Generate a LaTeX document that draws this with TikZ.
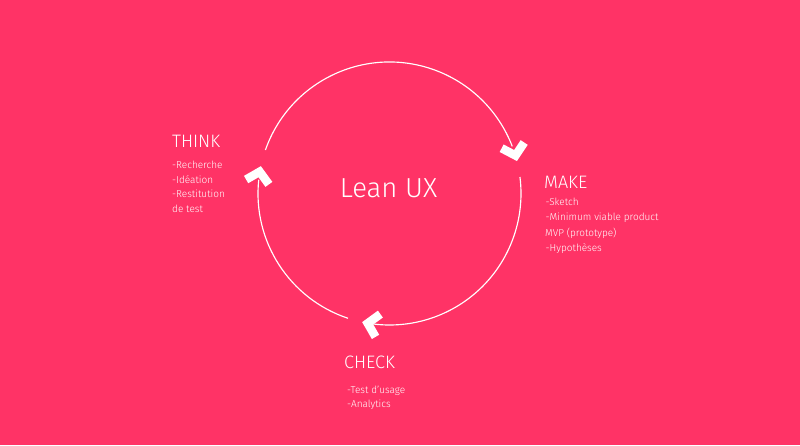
\documentclass[tikz,border=0pt]{standalone}
\usepackage{fontspec}
\setmainfont{Fira Sans}[UprightFont={* Light}]
\usetikzlibrary{calc}
\begin{document}
\begin{tikzpicture}[x=1pt,y=1pt,
  ring/.style={draw=white, line width=1.15pt},
  chev/.style={fill=white, draw=none},
  head/.style={text=white, inner sep=0pt, anchor=base west, font=\fontsize{18}{18}\selectfont},
  item/.style={text=white, inner sep=0pt, anchor=base west, font=\fontsize{10}{10}\selectfont},
]
\definecolor{bg}{RGB}{255,51,102}
\fill[bg] (0,0) rectangle (800,445);
\useasboundingbox (0,0) rectangle (800,445);
\coordinate (C) at (389.5,251.5);
\def\R{131.5}
% arcs
\draw[ring] (C) ++(160.7:\R) arc[start angle=160.7, end angle=21, radius=\R];
\draw[ring] (C) ++(7.2:\R) arc[start angle=7.2, end angle=-97, radius=\R];
\draw[ring] (C) ++(251.6:\R) arc[start angle=251.6, end angle=174, radius=\R];
% chevrons
\foreach \a in {168,14.3,258}{
  \fill[chev, shift={($(C)+(\a:\R)$)}, rotate=\a-90]
    (0,0) -- (-13,14.5) -- (-19.3,8.8) -- (-11.4,0) -- (-19.3,-8.8) -- (-13,-14.5) -- cycle;
}
% center
\node[text=white, inner sep=0pt, anchor=base, font=\fontsize{27.5}{27.5}\selectfont] (lean) at (388.5,247.3) {Lean UX};
% THINK
\node[head] (think) at (172,297) {THINK};
\node[item] (t1) at (172,276.5) {-Recherche};
\node[item] (t2) at (172,261.8) {-Idéation};
\node[item] (t3) at (172,247.2) {-Restitution};
\node[item] (t4) at (172,232.5) {de test};
% MAKE
\node[head] (make) at (544,256) {MAKE};
\node[item] (m1) at (545.5,239) {-Sketch};
\node[item] (m2) at (545.5,224) {-Minimum viable product};
\node[item] (m3) at (545,209) {MVP (prototype)};
\node[item] (m4) at (545.5,194) {-Hypothèses};
% CHECK
\node[head] (check) at (344,77) {CHECK};
\node[item] (c1) at (347,51.5) {-Test d’usage};
\node[item] (c2) at (347,37.5) {-Analytics};
\end{tikzpicture}
\end{document}
